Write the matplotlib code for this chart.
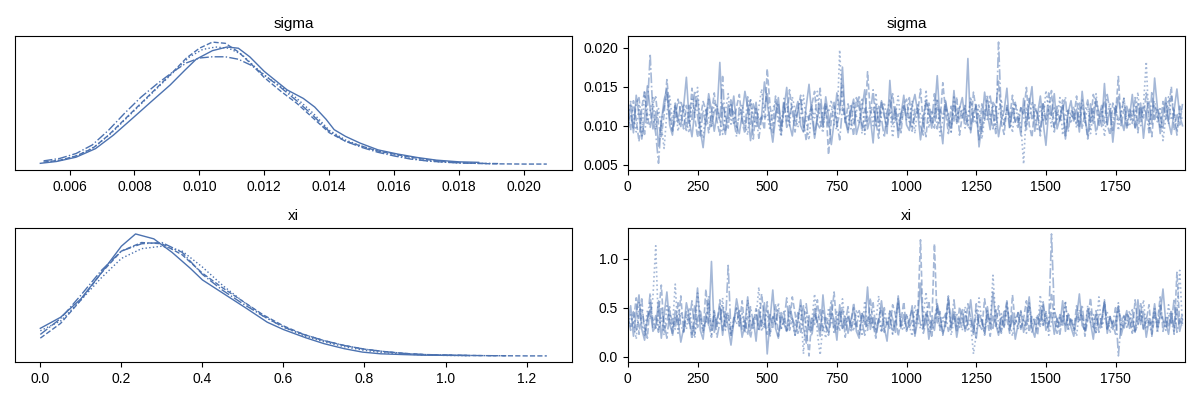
import numpy as np
import matplotlib
matplotlib.use("Agg")
import matplotlib.pyplot as plt
from matplotlib.ticker import MultipleLocator

plt.rcParams['font.family'] = ['Liberation Sans', 'DejaVu Sans']

color = "#4c72b0"
styles = ["-", "--", ":", "-."]

# KDE curves (x, relative density), one per chain
# sigma x values in units of 1e-3
sigma_kde_x = [
    [5.1, 5.6, 6.2, 6.8, 7.35, 7.95, 8.5, 9.1, 9.55, 9.9, 10.4, 10.85, 11.2, 11.55, 12.0, 12.7, 13.2, 13.55, 13.9, 14.15, 14.5, 14.95, 15.5, 16.1, 16.7, 17.3, 18.0, 18.6],
    [5.2, 5.7, 6.2, 6.7, 7.2, 7.7, 8.2, 8.7, 9.2, 9.6, 10.0, 10.4, 10.8, 11.2, 11.6, 12.0, 12.5, 13.0, 13.5, 14.0, 14.5, 15.0, 15.5, 16.0, 16.5, 17.0, 17.5, 18.0, 18.5, 19.0, 19.5, 20.0, 20.7],
    [5.3, 5.8, 6.3, 6.8, 7.3, 7.8, 8.3, 8.8, 9.3, 9.7, 10.1, 10.5, 10.9, 11.3, 11.7, 12.1, 12.5, 13.0, 13.5, 14.0, 14.5, 15.0, 15.5, 16.0, 16.5, 17.0, 17.5, 18.0, 18.5, 19.0],
    [5.2, 5.7, 6.2, 6.7, 7.2, 7.7, 8.2, 8.7, 9.2, 9.6, 10.0, 10.4, 10.8, 11.2, 11.6, 12.0, 12.5, 13.0, 13.5, 14.0, 14.5, 15.0, 15.5, 16.0, 16.5, 17.0, 17.5, 18.0, 18.5, 19.2],
]
sigma_kde_y = [
    [0.01, 0.025, 0.06, 0.13, 0.24, 0.38, 0.51, 0.65, 0.77, 0.86, 0.93, 0.96, 0.95, 0.88, 0.76, 0.61, 0.54, 0.47, 0.37, 0.285, 0.23, 0.175, 0.12, 0.086, 0.058, 0.036, 0.022, 0.018],
    [0.02, 0.035, 0.07, 0.13, 0.24, 0.37, 0.50, 0.63, 0.76, 0.87, 0.95, 1.0, 0.99, 0.92, 0.82, 0.71, 0.60, 0.50, 0.38, 0.26, 0.19, 0.15, 0.11, 0.085, 0.06, 0.04, 0.025, 0.015, 0.01, 0.006, 0.005, 0.004, 0.004],
    [0.02, 0.04, 0.08, 0.15, 0.26, 0.39, 0.52, 0.65, 0.78, 0.88, 0.94, 0.96, 0.95, 0.90, 0.80, 0.71, 0.64, 0.54, 0.42, 0.28, 0.20, 0.15, 0.11, 0.08, 0.05, 0.03, 0.02, 0.014, 0.01, 0.008],
    [0.03, 0.05, 0.09, 0.16, 0.28, 0.42, 0.55, 0.66, 0.76, 0.83, 0.87, 0.88, 0.88, 0.86, 0.81, 0.73, 0.63, 0.52, 0.40, 0.27, 0.19, 0.14, 0.10, 0.07, 0.045, 0.03, 0.02, 0.013, 0.01, 0.008],
]
xi_kde_x = [
    [0.0, 0.05, 0.1, 0.15, 0.2, 0.235, 0.28, 0.325, 0.37, 0.4, 0.465, 0.51, 0.56, 0.6, 0.655, 0.7, 0.75, 0.795, 0.84, 0.94, 1.06],
    [0.0, 0.05, 0.1, 0.15, 0.2, 0.25, 0.3, 0.35, 0.4, 0.45, 0.5, 0.55, 0.6, 0.65, 0.7, 0.75, 0.8, 0.85, 0.9, 0.95, 1.0, 1.05, 1.1, 1.15, 1.2, 1.25],
    [0.0, 0.05, 0.1, 0.15, 0.2, 0.25, 0.3, 0.35, 0.4, 0.45, 0.5, 0.55, 0.6, 0.65, 0.7, 0.75, 0.8, 0.85, 0.9, 0.95, 1.0, 1.06],
    [0.0, 0.05, 0.1, 0.15, 0.2, 0.25, 0.3, 0.35, 0.4, 0.45, 0.5, 0.55, 0.6, 0.65, 0.7, 0.75, 0.8, 0.85, 0.9, 0.95, 1.0, 1.05, 1.1, 1.15],
]
xi_kde_y = [
    [0.23, 0.32, 0.47, 0.68, 0.90, 1.0, 0.96, 0.85, 0.72, 0.625, 0.486, 0.39, 0.28, 0.22, 0.153, 0.105, 0.064, 0.036, 0.022, 0.011, 0.008],
    [0.15, 0.27, 0.46, 0.68, 0.86, 0.93, 0.92, 0.83, 0.68, 0.56, 0.45, 0.34, 0.25, 0.18, 0.13, 0.09, 0.06, 0.04, 0.025, 0.016, 0.012, 0.009, 0.007, 0.006, 0.005, 0.005],
    [0.21, 0.29, 0.46, 0.64, 0.80, 0.88, 0.90, 0.86, 0.73, 0.58, 0.45, 0.33, 0.24, 0.17, 0.12, 0.08, 0.05, 0.03, 0.02, 0.013, 0.009, 0.007],
    [0.18, 0.31, 0.50, 0.70, 0.86, 0.92, 0.93, 0.85, 0.67, 0.54, 0.43, 0.33, 0.24, 0.18, 0.13, 0.09, 0.06, 0.04, 0.025, 0.016, 0.012, 0.009, 0.007, 0.006],
]

# trace values, every 10th draw; sigma in units of 1e-3, xi in units of 1e-2
draws = np.arange(0, 2000, 10)
sigma_trace = [
    [10.2, 12.8, 9.1, 13.9, 11.4, 8.3, 10.9, 15.1, 12.2, 9.6, 11.8, 7.4, 10.5, 13.3, 14.7, 10.1, 8.8, 12.6, 11.0, 9.9,
     12.4, 16.2, 10.7, 8.6, 11.9, 13.5, 9.4, 7.2, 10.8, 14.1, 12.0, 9.3, 11.6, 18.1, 10.4, 8.9, 12.7, 11.2, 13.8, 10.0,
     9.0, 11.5, 14.4, 12.3, 8.1, 10.6, 13.0, 9.7, 11.3, 15.6, 12.9, 10.3, 7.9, 11.1, 13.6, 9.5, 12.1, 14.9, 10.2, 8.7,
     11.7, 13.1, 10.0, 9.2, 12.5, 15.3, 11.4, 8.4, 10.9, 12.8, 9.8, 13.7, 11.2, 7.6, 10.5, 14.2, 12.0, 17.5, 10.7, 9.1,
     11.9, 13.4, 8.9, 10.3, 12.2, 14.6, 9.6, 11.0, 7.8, 12.7, 10.4, 13.2, 11.5, 9.0, 15.8, 10.8, 12.4, 8.5, 11.3, 13.9,
     10.1, 9.4, 12.6, 14.0, 11.7, 8.2, 10.9, 13.3, 12.1, 9.7, 11.4, 16.4, 10.6, 7.7, 12.9, 11.1, 9.9, 14.5, 10.3, 12.2,
     13.6, 10.7, 18.6, 9.1, 11.8, 12.5, 7.3, 10.2, 14.3, 11.6, 9.5, 13.0, 12.4, 8.6, 10.8, 11.9, 14.8, 9.8, 12.3, 10.5,
     11.2, 8.8, 13.5, 10.0, 12.7, 15.0, 9.3, 11.5, 13.8, 10.4, 7.5, 12.0, 11.3, 14.1, 9.6, 10.9, 12.6, 8.3, 11.7, 13.2,
     10.6, 12.1, 9.2, 14.4, 11.0, 8.7, 12.8, 10.3, 13.4, 11.6, 9.9, 15.4, 10.1, 12.2, 7.9, 11.4, 13.7, 10.8, 9.4, 12.5,
     11.1, 14.0, 9.7, 10.7, 12.9, 8.4, 11.8, 13.1, 10.2, 16.1, 12.3, 9.0, 11.5, 13.6, 10.5, 8.9, 12.0, 14.7, 11.3, 10.0],
    [11.6, 9.4, 13.2, 10.7, 8.0, 12.3, 14.5, 11.0, 9.8, 12.9, 13.7, 10.2, 8.6, 11.4, 15.9, 12.1, 9.3, 10.8, 13.4, 11.7,
     9.6, 12.6, 10.3, 14.8, 11.2, 8.5, 10.9, 13.1, 12.0, 9.1, 11.5, 14.2, 10.6, 8.8, 12.8, 11.3, 9.7, 13.5, 10.1, 12.4,
     14.0, 10.5, 9.0, 11.9, 13.3, 8.3, 12.2, 10.7, 11.1, 9.5, 17.3, 12.6, 10.0, 13.8, 11.4, 8.9, 12.9, 10.4, 14.6, 11.8,
     9.2, 12.1, 13.9, 10.6, 8.1, 11.3, 12.7, 14.4, 10.3, 9.6, 11.9, 13.0, 6.3, 10.8, 12.5, 9.9, 11.6, 15.2, 10.2, 12.8,
     11.0, 8.7, 13.6, 12.3, 10.1, 9.4, 16.9, 11.7, 12.4, 10.5, 8.4, 13.1, 11.2, 9.8, 12.0, 14.1, 10.7, 11.5, 9.1, 12.7,
     13.4, 10.9, 9.3, 12.2, 11.6, 14.7, 10.2, 8.6, 12.9, 11.1, 9.7, 13.2, 10.4, 15.5, 11.8, 9.0, 12.5, 10.6, 13.7, 8.8,
     11.3, 12.6, 10.0, 9.5, 14.3, 11.9, 8.2, 12.8, 10.7, 13.5, 11.4, 9.6, 12.1, 15.7, 10.3, 8.9, 12.4, 11.0, 13.9, 10.5,
     9.8, 12.3, 11.6, 14.9, 10.1, 8.5, 12.7, 11.2, 9.4, 13.0, 10.6, 12.2, 14.5, 9.2, 11.7, 10.8, 13.3, 8.7, 12.0, 11.4,
     10.9, 13.8, 9.7, 12.5, 11.1, 8.3, 10.4, 14.0, 12.6, 9.9, 11.8, 13.2, 10.2, 8.8, 12.9, 11.5, 16.3, 10.0, 12.1, 9.5,
     11.7, 10.3, 13.6, 9.1, 12.4, 11.0, 14.2, 10.6, 8.6, 12.7, 11.3, 9.8, 13.1, 10.9, 12.2, 15.0, 9.4, 11.6, 10.1, 12.8],
    [10.8, 13.1, 11.4, 9.2, 12.6, 8.7, 14.3, 10.3, 11.9, 13.6, 9.5, 12.2, 10.0, 7.1, 11.7, 13.8, 10.6, 12.9, 9.3, 11.2,
     12.8, 10.4, 9.1, 13.4, 11.6, 14.9, 10.1, 8.4, 12.3, 11.0, 9.7, 13.0, 12.5, 10.7, 8.9, 11.8, 14.1, 10.2, 12.0, 9.6,
     11.3, 12.7, 10.5, 8.8, 13.5, 11.1, 9.9, 12.4, 14.7, 10.9, 11.5, 9.4, 12.1, 13.2, 10.3, 8.6, 11.9, 12.8, 10.0, 13.7,
     12.0, 9.8, 11.4, 13.9, 10.6, 8.2, 12.3, 11.0, 14.4, 10.4, 9.1, 12.6, 11.7, 13.3, 10.1, 9.5, 19.7, 12.2, 10.8, 11.5,
     9.6, 12.9, 11.2, 10.3, 13.6, 8.9, 11.8, 12.5, 10.0, 14.2, 9.4, 11.6, 13.0, 10.7, 12.1, 8.5, 11.3, 13.8, 10.2, 12.4,
     11.9, 10.5, 13.2, 9.0, 12.7, 11.4, 10.1, 14.6, 9.7, 12.0, 11.1, 13.5, 8.7, 10.8, 12.3, 11.6, 9.2, 13.9, 10.4, 12.6,
     10.9, 12.2, 9.8, 13.7, 11.5, 10.2, 12.8, 8.3, 11.0, 14.0, 10.6, 12.5, 9.5, 11.8, 13.4, 10.0, 12.1, 11.3, 9.1, 12.9,
     11.6, 10.1, 5.1, 12.4, 10.7, 13.1, 11.2, 9.3, 12.7, 10.5, 14.5, 11.9, 9.9, 12.3, 10.8, 13.6, 8.8, 11.4, 12.0, 10.3,
     12.5, 9.7, 11.1, 13.3, 10.4, 12.8, 9.0, 11.7, 14.1, 10.9, 12.2, 8.6, 11.5, 13.0, 10.2, 12.6, 9.4, 11.8, 13.5, 10.6,
     9.9, 12.1, 11.3, 14.3, 10.0, 12.7, 18.2, 9.6, 11.9, 13.2, 10.5, 12.4, 8.1, 11.0, 13.7, 10.7, 12.0, 9.3, 11.6, 10.8],
    [10.0, 11.5, 9.7, 12.9, 13.6, 10.4, 8.9, 12.1, 19.2, 11.2, 9.0, 5.2, 10.6, 12.4, 14.0, 11.0, 9.5, 12.7, 10.3, 13.2,
     11.7, 9.2, 12.6, 10.8, 14.5, 11.3, 8.7, 12.0, 10.1, 13.4, 9.9, 11.8, 12.5, 10.5, 16.3, 9.4, 11.1, 12.9, 10.7, 8.6,
     12.3, 11.0, 9.6, 13.7, 10.2, 12.8, 11.4, 8.4, 10.9, 12.2, 14.3, 10.6, 9.1, 11.7, 12.9, 10.0, 13.5, 9.8, 11.3, 12.6,
     10.4, 12.0, 13.3, 9.3, 11.6, 10.8, 12.7, 8.9, 11.2, 14.8, 10.1, 12.4, 9.7, 11.9, 13.0, 10.5, 8.2, 12.3, 11.1, 9.5,
     12.8, 10.3, 11.7, 13.9, 9.0, 12.2, 10.6, 11.4, 14.6, 9.8, 12.5, 10.9, 8.5, 11.8, 13.3, 10.2, 12.0, 9.4, 11.5, 12.7,
     10.7, 13.6, 9.9, 11.2, 12.4, 10.0, 8.8, 12.9, 11.6, 10.4, 14.1, 9.6, 12.1, 11.0, 13.4, 10.3, 9.2, 12.6, 11.8, 10.9,
     12.2, 9.7, 11.4, 13.1, 10.5, 12.7, 11.0, 9.3, 12.0, 10.8, 13.8, 11.5, 9.0, 20.7, 11.2, 10.1, 12.6, 9.6, 11.9, 13.0,
     10.4, 12.3, 11.1, 9.5, 13.5, 10.9, 12.1, 11.6, 8.7, 12.8, 10.2, 14.2, 11.3, 9.8, 12.5, 10.6, 11.9, 13.7, 9.2, 12.0,
     11.4, 10.1, 12.9, 9.6, 11.7, 13.3, 10.5, 12.2, 8.9, 11.0, 12.6, 10.3, 14.0, 11.8, 9.4, 12.4, 10.7, 11.3, 13.6, 10.0,
     12.1, 11.2, 9.8, 13.0, 10.6, 12.7, 11.5, 9.1, 14.4, 10.8, 12.3, 11.0, 9.7, 12.9, 10.2, 13.8, 11.6, 8.8, 12.5, 11.4],
]
xi_trace = [
    [34, 52, 21, 45, 63, 28, 17, 39, 48, 26, 31, 57, 19, 42, 66, 33, 24, 47, 38, 15,
     29, 55, 41, 23, 36, 70, 27, 18, 44, 32, 97, 25, 38, 51, 22, 46, 30, 12, 35, 59,
     43, 20, 33, 61, 27, 39, 16, 48, 31, 55, 3, 37, 68, 29, 19, 45, 34, 26, 52, 40,
     22, 36, 58, 30, 14, 42, 27, 49, 35, 21, 63, 32, 25, 46, 38, 17, 53, 29, 41, 24,
     37, 50, 26, 19, 44, 33, 71, 28, 40, 23, 35, 57, 30, 16, 47, 39, 25, 62, 31, 43,
     28, 34, 52, 21, 38, 75, 30, 45, 18, 36, 27, 54, 41, 24, 33, 60, 29, 46, 20, 37,
     48, 26, 35, 58, 31, 19, 43, 37, 24, 51, 29, 66, 34, 22, 40, 30, 55, 27, 45, 18,
     33, 47, 25, 38, 61, 29, 20, 42, 36, 53, 27, 34, 45, 23, 39, 31, 57, 26, 44, 30,
     21, 40, 64, 32, 27, 49, 35, 18, 43, 30, 38, 56, 24, 41, 28, 36, 52, 22, 34, 47,
     29, 39, 25, 58, 33, 46, 20, 37, 31, 54, 27, 42, 69, 35, 23, 44, 30, 50, 26, 38],
    [41, 27, 36, 60, 23, 48, 32, 19, 55, 38, 29, 44, 73, 26, 35, 51, 21, 40, 33, 62,
     25, 46, 37, 18, 53, 30, 42, 24, 69, 34, 20, 47, 31, 58, 27, 39, 45, 22, 36, 50,
     32, 57, 26, 41, 19, 35, 49, 28, 64, 37, 23, 43, 30, 54, 21, 38, 46, 27, 33, 61,
     44, 24, 36, 52, 29, 1, 40, 33, 58, 26, 47, 31, 22, 39, 66, 28, 35, 50, 20, 42,
     30, 55, 34, 23, 45, 38, 27, 60, 32, 19, 41, 49, 25, 36, 29, 53, 43, 21, 37, 56,
     26, 39, 48, 31, 42, 119, 24, 35, 57, 28, 115, 33, 46, 22, 38, 62, 30, 44, 25, 51,
     37, 29, 54, 40, 23, 47, 33, 28, 59, 36, 21, 43, 31, 52, 26, 48, 38, 24, 63, 34,
     45, 30, 39, 57, 25, 41, 35, 22, 50, 32, 46, 28, 65, 37, 24, 43, 31, 55, 29, 40,
     27, 52, 36, 44, 21, 38, 60, 30, 47, 25, 34, 56, 29, 41, 33, 23, 49, 37, 28, 45,
     39, 24, 58, 32, 46, 28, 37, 53, 21, 42, 35, 61, 26, 40, 30, 48, 23, 86, 34, 43],
    [29, 43, 35, 18, 56, 33, 25, 47, 38, 61, 113, 27, 40, 22, 52, 36, 30, 74, 24, 45,
     37, 28, 50, 33, 19, 65, 41, 26, 35, 54, 23, 46, 32, 38, 60, 27, 43, 21, 36, 49,
     31, 44, 24, 58, 36, 29, 40, 71, 26, 35, 48, 20, 42, 33, 55, 28, 39, 25, 47, 34,
     22, 38, 52, 3, 45, 27, 36, 64, 24, 2, 33, 19, 50, 37, 29, 46, 26, 59, 32, 40,
     35, 26, 48, 39, 21, 57, 31, 43, 28, 36, 62, 25, 40, 33, 47, 23, 38, 54, 30, 27,
     44, 32, 21, 53, 36, 29, 41, 66, 25, 38, 34, 49, 27, 42, 31, 56, 22, 37, 45, 30,
     39, 51, 26, 34, 3, 23, 60, 35, 29, 47, 32, 83, 38, 25, 44, 30, 52, 36, 21, 41,
     28, 46, 37, 24, 55, 33, 40, 27, 63, 31, 45, 22, 36, 49, 29, 42, 34, 57, 26, 39,
     33, 21, 48, 38, 27, 52, 35, 43, 25, 61, 30, 39, 46, 24, 37, 32, 55, 28, 41, 35,
     47, 30, 25, 42, 36, 58, 28, 39, 33, 51, 24, 44, 37, 29, 53, 35, 26, 45, 88, 31],
    [38, 31, 46, 27, 40, 59, 22, 36, 65, 30, 42, 25, 51, 34, 19, 44, 37, 28, 55, 32,
     26, 41, 34, 57, 23, 39, 48, 30, 36, 62, 27, 44, 20, 35, 53, 31, 93, 24, 40, 33,
     47, 28, 37, 22, 51, 35, 43, 26, 38, 30, 56, 24, 41, 33, 49, 29, 36, 60, 27, 39,
     32, 45, 25, 38, 54, 30, 21, 43, 36, 48, 27, 40, 33, 58, 23, 37, 46, 29, 34, 51,
     25, 39, 31, 47, 36, 22, 42, 34, 55, 28, 38, 26, 50, 33, 41, 24, 37, 60, 29, 35,
     42, 30, 37, 24, 49, 33, 27, 45, 38, 21, 40, 52, 29, 36, 44, 26, 34, 58, 31, 39,
     27, 46, 33, 40, 25, 54, 31, 38, 22, 43, 36, 29, 48, 35, 24, 41, 57, 30, 37, 33,
     45, 28, 39, 32, 51, 24, 36, 42, 30, 56, 34, 34, 125, 47, 38, 23, 42, 31, 44, 36,
     29, 41, 35, 53, 26, 38, 46, 31, 24, 44, 33, 58, 28, 39, 34, 50, 1, 36, 42, 30,
     37, 48, 26, 33, 55, 29, 40, 35, 23, 46, 31, 52, 38, 27, 43, 34, 59, 25, 39, 32],
]

fig, axes = plt.subplots(2, 2, figsize=(12, 4), dpi=100)
fig.subplots_adjust(left=0.0125, right=0.9875, top=0.91, bottom=0.095, wspace=0.1, hspace=0.43)

rows = [
    ("sigma", sigma_kde_x, sigma_kde_y, sigma_trace, 1e-3, 0.002),
    ("xi", xi_kde_x, xi_kde_y, xi_trace, 1e-2, 0.2),
]
for r, (name, kx, ky, tr, unit, step) in enumerate(rows):
    ax_kde, ax_tr = axes[r]
    for c in range(4):
        xs = np.array(kx[c])
        if name == "sigma":
            xs = xs * 1e-3
        ax_kde.plot(xs, ky[c], color=color, ls=styles[c], lw=1)
        ax_tr.plot(draws, np.array(tr[c]) * unit, color=color, ls=styles[c], lw=1.2, alpha=0.5)
    ax_kde.set_title(name, fontsize=11)
    ax_kde.set_yticks([])
    ax_kde.xaxis.set_major_locator(MultipleLocator(step))
    ax_kde.tick_params(labelsize=10)
    ax_tr.set_title(name, fontsize=11)
    ax_tr.set_xlim(0, 1999)
    ax_tr.xaxis.set_major_locator(MultipleLocator(250))
    ax_tr.tick_params(labelsize=10)

fig.savefig("out.png", dpi=100)
